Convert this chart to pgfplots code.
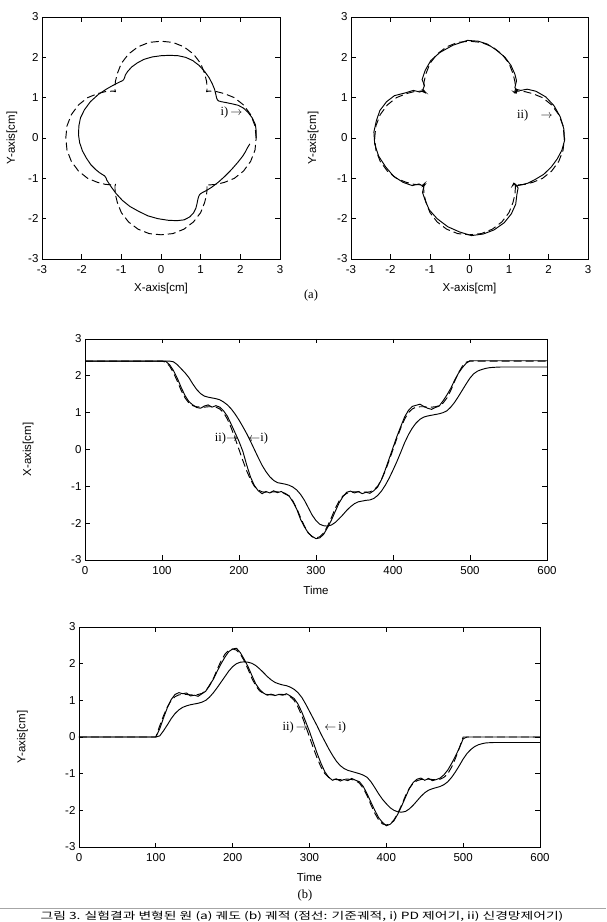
\documentclass[border=0pt]{standalone}
\usepackage{fontspec}
\setmainfont{Liberation Sans}
\newfontfamily\serifann{Liberation Serif}
\newfontfamily\kr{Noto Sans CJK KR}
\usepackage{pgfplots}
\usepackage{pgfplotstable}
\pgfplotsset{compat=1.18}

\pgfplotstableread{
t xr yr xp yp xn yn
0 2.40 0.00 2.40 0.00 2.40 0.00
100 2.40 0.00 2.40 0.00 2.40 0.00
105 2.37 0.30 2.40 0.03 2.39 0.22
110 2.26 0.58 2.40 0.17 2.30 0.52
115 2.08 0.82 2.38 0.33 2.14 0.80
120 1.85 1.00 2.30 0.50 1.93 1.02
125 1.60 1.10 2.19 0.64 1.68 1.16
130 1.40 1.15 2.08 0.74 1.46 1.21
135 1.26 1.16 1.95 0.81 1.30 1.18
140 1.19 1.16 1.78 0.85 1.21 1.20
145 1.16 1.15 1.63 0.88 1.14 1.12
150 1.15 1.15 1.52 0.90 1.12 1.14
155 1.15 1.16 1.45 0.92 1.18 1.11
160 1.16 1.19 1.42 0.95 1.21 1.18
165 1.16 1.26 1.40 1.00 1.15 1.25
170 1.15 1.40 1.38 1.09 1.19 1.42
175 1.10 1.60 1.35 1.21 1.15 1.58
180 1.00 1.85 1.29 1.35 1.05 1.80
185 0.82 2.08 1.21 1.50 0.90 2.00
190 0.58 2.26 1.10 1.65 0.68 2.18
195 0.30 2.37 0.96 1.80 0.45 2.33
200 0.00 2.40 0.80 1.92 0.22 2.40
205 -0.30 2.37 0.62 2.00 -0.05 2.42
210 -0.58 2.26 0.43 2.04 -0.42 2.30
215 -0.82 2.08 0.22 2.05 -0.75 2.12
220 -1.00 1.85 0.00 2.04 -0.98 1.92
225 -1.10 1.60 -0.22 2.01 -1.12 1.68
230 -1.15 1.40 -0.43 1.95 -1.20 1.45
235 -1.16 1.26 -0.60 1.86 -1.14 1.30
240 -1.16 1.19 -0.74 1.76 -1.18 1.20
245 -1.15 1.16 -0.84 1.65 -1.12 1.14
250 -1.15 1.15 -0.90 1.56 -1.17 1.17
255 -1.16 1.15 -0.92 1.49 -1.14 1.13
260 -1.19 1.16 -0.94 1.45 -1.21 1.16
265 -1.26 1.16 -0.97 1.42 -1.26 1.14
270 -1.40 1.15 -1.02 1.40 -1.42 1.18
275 -1.60 1.10 -1.10 1.36 -1.62 1.12
280 -1.85 1.00 -1.22 1.30 -1.90 1.05
285 -2.08 0.82 -1.38 1.21 -2.10 0.90
290 -2.26 0.58 -1.58 1.08 -2.27 0.68
295 -2.37 0.30 -1.78 0.90 -2.36 0.42
300 -2.40 0.00 -1.93 0.70 -2.42 0.15
305 -2.37 -0.30 -2.03 0.50 -2.40 -0.15
310 -2.26 -0.58 -2.07 0.30 -2.30 -0.45
315 -2.08 -0.82 -2.08 0.08 -2.12 -0.72
320 -1.85 -1.00 -2.05 -0.12 -1.92 -0.95
325 -1.60 -1.10 -1.98 -0.32 -1.68 -1.10
330 -1.40 -1.15 -1.88 -0.50 -1.45 -1.18
335 -1.26 -1.16 -1.77 -0.66 -1.28 -1.14
340 -1.19 -1.16 -1.65 -0.78 -1.16 -1.20
345 -1.16 -1.15 -1.55 -0.86 -1.13 -1.16
350 -1.15 -1.15 -1.47 -0.91 -1.18 -1.19
355 -1.15 -1.16 -1.42 -0.94 -1.14 -1.13
360 -1.16 -1.19 -1.40 -0.97 -1.20 -1.18
365 -1.16 -1.26 -1.38 -1.00 -1.16 -1.22
370 -1.15 -1.40 -1.37 -1.04 -1.19 -1.35
375 -1.10 -1.60 -1.33 -1.10 -1.12 -1.55
380 -1.00 -1.85 -1.25 -1.22 -1.02 -1.78
385 -0.82 -2.08 -1.13 -1.38 -0.82 -2.00
390 -0.58 -2.26 -0.97 -1.55 -0.55 -2.20
395 -0.30 -2.37 -0.78 -1.70 -0.25 -2.33
400 0.00 -2.40 -0.56 -1.82 0.05 -2.42
405 0.30 -2.37 -0.33 -1.93 0.35 -2.38
410 0.58 -2.26 -0.08 -2.00 0.62 -2.28
415 0.82 -2.08 0.18 -2.04 0.88 -2.10
420 1.00 -1.85 0.40 -2.05 1.06 -1.88
425 1.10 -1.60 0.58 -2.03 1.17 -1.64
430 1.15 -1.40 0.72 -1.96 1.20 -1.40
435 1.16 -1.26 0.82 -1.86 1.23 -1.24
440 1.16 -1.19 0.88 -1.74 1.17 -1.15
445 1.15 -1.16 0.91 -1.62 1.12 -1.12
450 1.15 -1.15 0.93 -1.52 1.09 -1.18
455 1.16 -1.15 0.95 -1.45 1.14 -1.13
460 1.19 -1.16 0.97 -1.41 1.18 -1.19
465 1.26 -1.16 1.00 -1.38 1.32 -1.16
470 1.40 -1.15 1.05 -1.35 1.48 -1.12
475 1.60 -1.10 1.15 -1.30 1.66 -1.03
480 1.85 -1.00 1.28 -1.22 1.88 -0.90
485 2.08 -0.82 1.44 -1.10 2.07 -0.72
490 2.26 -0.58 1.61 -0.95 2.22 -0.52
495 2.37 -0.30 1.78 -0.78 2.34 -0.30
500 2.40 0.00 1.94 -0.60 2.41 -0.05
505 2.40 0.00 2.06 -0.45 2.41 0.00
510 2.40 0.00 2.13 -0.34 2.41 0.00
515 2.40 0.00 2.17 -0.26 2.41 0.00
520 2.40 0.00 2.20 -0.21 2.41 0.00
525 2.40 0.00 2.22 -0.18 2.41 0.00
530 2.40 0.00 2.23 -0.16 2.41 0.00
540 2.40 0.00 2.24 -0.15 2.41 0.00
600 2.40 0.00 2.24 -0.15 2.41 0.00
}\traj

\tikzset{ann/.style={font=\serifann\fontsize{12.5}{14}\selectfont, inner sep=0pt}}

\pgfplotsset{
  every axis/.append style={
    scale only axis,
    font=\fontsize{11.5}{13}\selectfont,
    /pgf/number format/assume math mode=true,
    axis line style={line width=0.9pt},
    major tick length=4.5pt,
    tick align=inside,
    every tick/.style={black, line width=0.8pt},
    xticklabel style={yshift=-3pt},
  },
  refline/.style={black, line width=0.95pt, dash pattern=on 8pt off 4pt},
  solidline/.style={black, line width=0.95pt},
}

\begin{document}
\begin{tikzpicture}
\useasboundingbox (0pt,0pt) rectangle (606pt,922pt);

% (a) left: PD
\begin{axis}[at={(42pt,663pt)}, anchor=south west, width=238pt, height=242pt,
  xmin=-3, xmax=3, ymin=-3, ymax=3,
  xtick={-3,-2,-1,0,1,2,3}, ytick={-3,-2,-1,0,1,2,3},
  xlabel={X-axis[cm]}, ylabel={Y-axis[cm]},
  xlabel style={at={(rel axis cs:0.5,-0.124)}, anchor=center},
  ylabel style={at={(rel axis cs:-0.126,0.5)}, anchor=center}]
\addplot[refline] table[x=xr, y=yr]{\traj};
\addplot[solidline] table[x=xp, y=yp]{\traj};
\node[ann, anchor=west] at (axis cs:1.5,0.62) {i)\,$\rightarrow$};
\end{axis}

% (a) right: NN
\begin{axis}[at={(351pt,663pt)}, anchor=south west, width=237pt, height=242pt,
  xmin=-3, xmax=3, ymin=-3, ymax=3,
  xtick={-3,-2,-1,0,1,2,3}, ytick={-3,-2,-1,0,1,2,3},
  xlabel={X-axis[cm]}, ylabel={Y-axis[cm]},
  xlabel style={at={(rel axis cs:0.5,-0.124)}, anchor=center},
  ylabel style={at={(rel axis cs:-0.16,0.5)}, anchor=center}]
\addplot[refline] table[x=xr, y=yr]{\traj};
\addplot[solidline] table[x=xn, y=yn]{\traj};
\node[ann, anchor=west] at (axis cs:1.2,0.57) {ii)\quad$\rightarrow$};
\end{axis}

\node[ann] at (311pt,627pt) {(a)};

% (b) top: X vs time
\begin{axis}[at={(85pt,362pt)}, anchor=south west, width=462pt, height=221pt,
  xmin=0, xmax=600, ymin=-3, ymax=3,
  xtick={0,100,...,600}, ytick={-3,-2,-1,0,1,2,3},
  xlabel={Time}, ylabel={X-axis[cm]},
  xlabel style={at={(rel axis cs:0.5,-0.136)}, anchor=center},
  ylabel style={at={(rel axis cs:-0.123,0.5)}, anchor=center}]
\addplot[refline] table[x=t, y=xr]{\traj};
\addplot[solidline] table[x=t, y=xp]{\traj};
\addplot[solidline] table[x=t, y=xn]{\traj};
\node[ann, anchor=east] at (axis cs:199,0.3) {ii)$\rightarrow$};
\node[ann, anchor=west] at (axis cs:212,0.3) {$\leftarrow$i)};
\end{axis}

% (b) bottom: Y vs time
\begin{axis}[at={(79pt,75pt)}, anchor=south west, width=461pt, height=220pt,
  xmin=0, xmax=600, ymin=-3, ymax=3,
  xtick={0,100,...,600}, ytick={-3,-2,-1,0,1,2,3},
  xlabel={Time}, ylabel={Y-axis[cm]},
  xlabel style={at={(rel axis cs:0.5,-0.136)}, anchor=center},
  ylabel style={at={(rel axis cs:-0.123,0.5)}, anchor=center}]
\addplot[refline] table[x=t, y=yr]{\traj};
\addplot[solidline] table[x=t, y=yp]{\traj};
\addplot[solidline] table[x=t, y=yn]{\traj};
\node[ann, anchor=east] at (axis cs:298,0.25) {ii)\,$\rightarrow$};
\node[ann, anchor=west] at (axis cs:319,0.25) {$\leftarrow$\,i)};
\end{axis}

\node[ann] at (305pt,27pt) {(b)};
\draw[black!35, line width=0.8pt] (0pt,14pt) -- (606pt,14pt);
\node[anchor=base, inner sep=0pt] at (302pt,2.2pt)
  {\scalebox{1}[0.72]{\kr\fontsize{13.8}{16}\selectfont 그림 3. 실험결과 변형된 원 (a) 궤도 (b) 궤적 (점선: 기준궤적, i) PD 제어기, ii) 신경망제어기)}};
\end{tikzpicture}
\end{document}
